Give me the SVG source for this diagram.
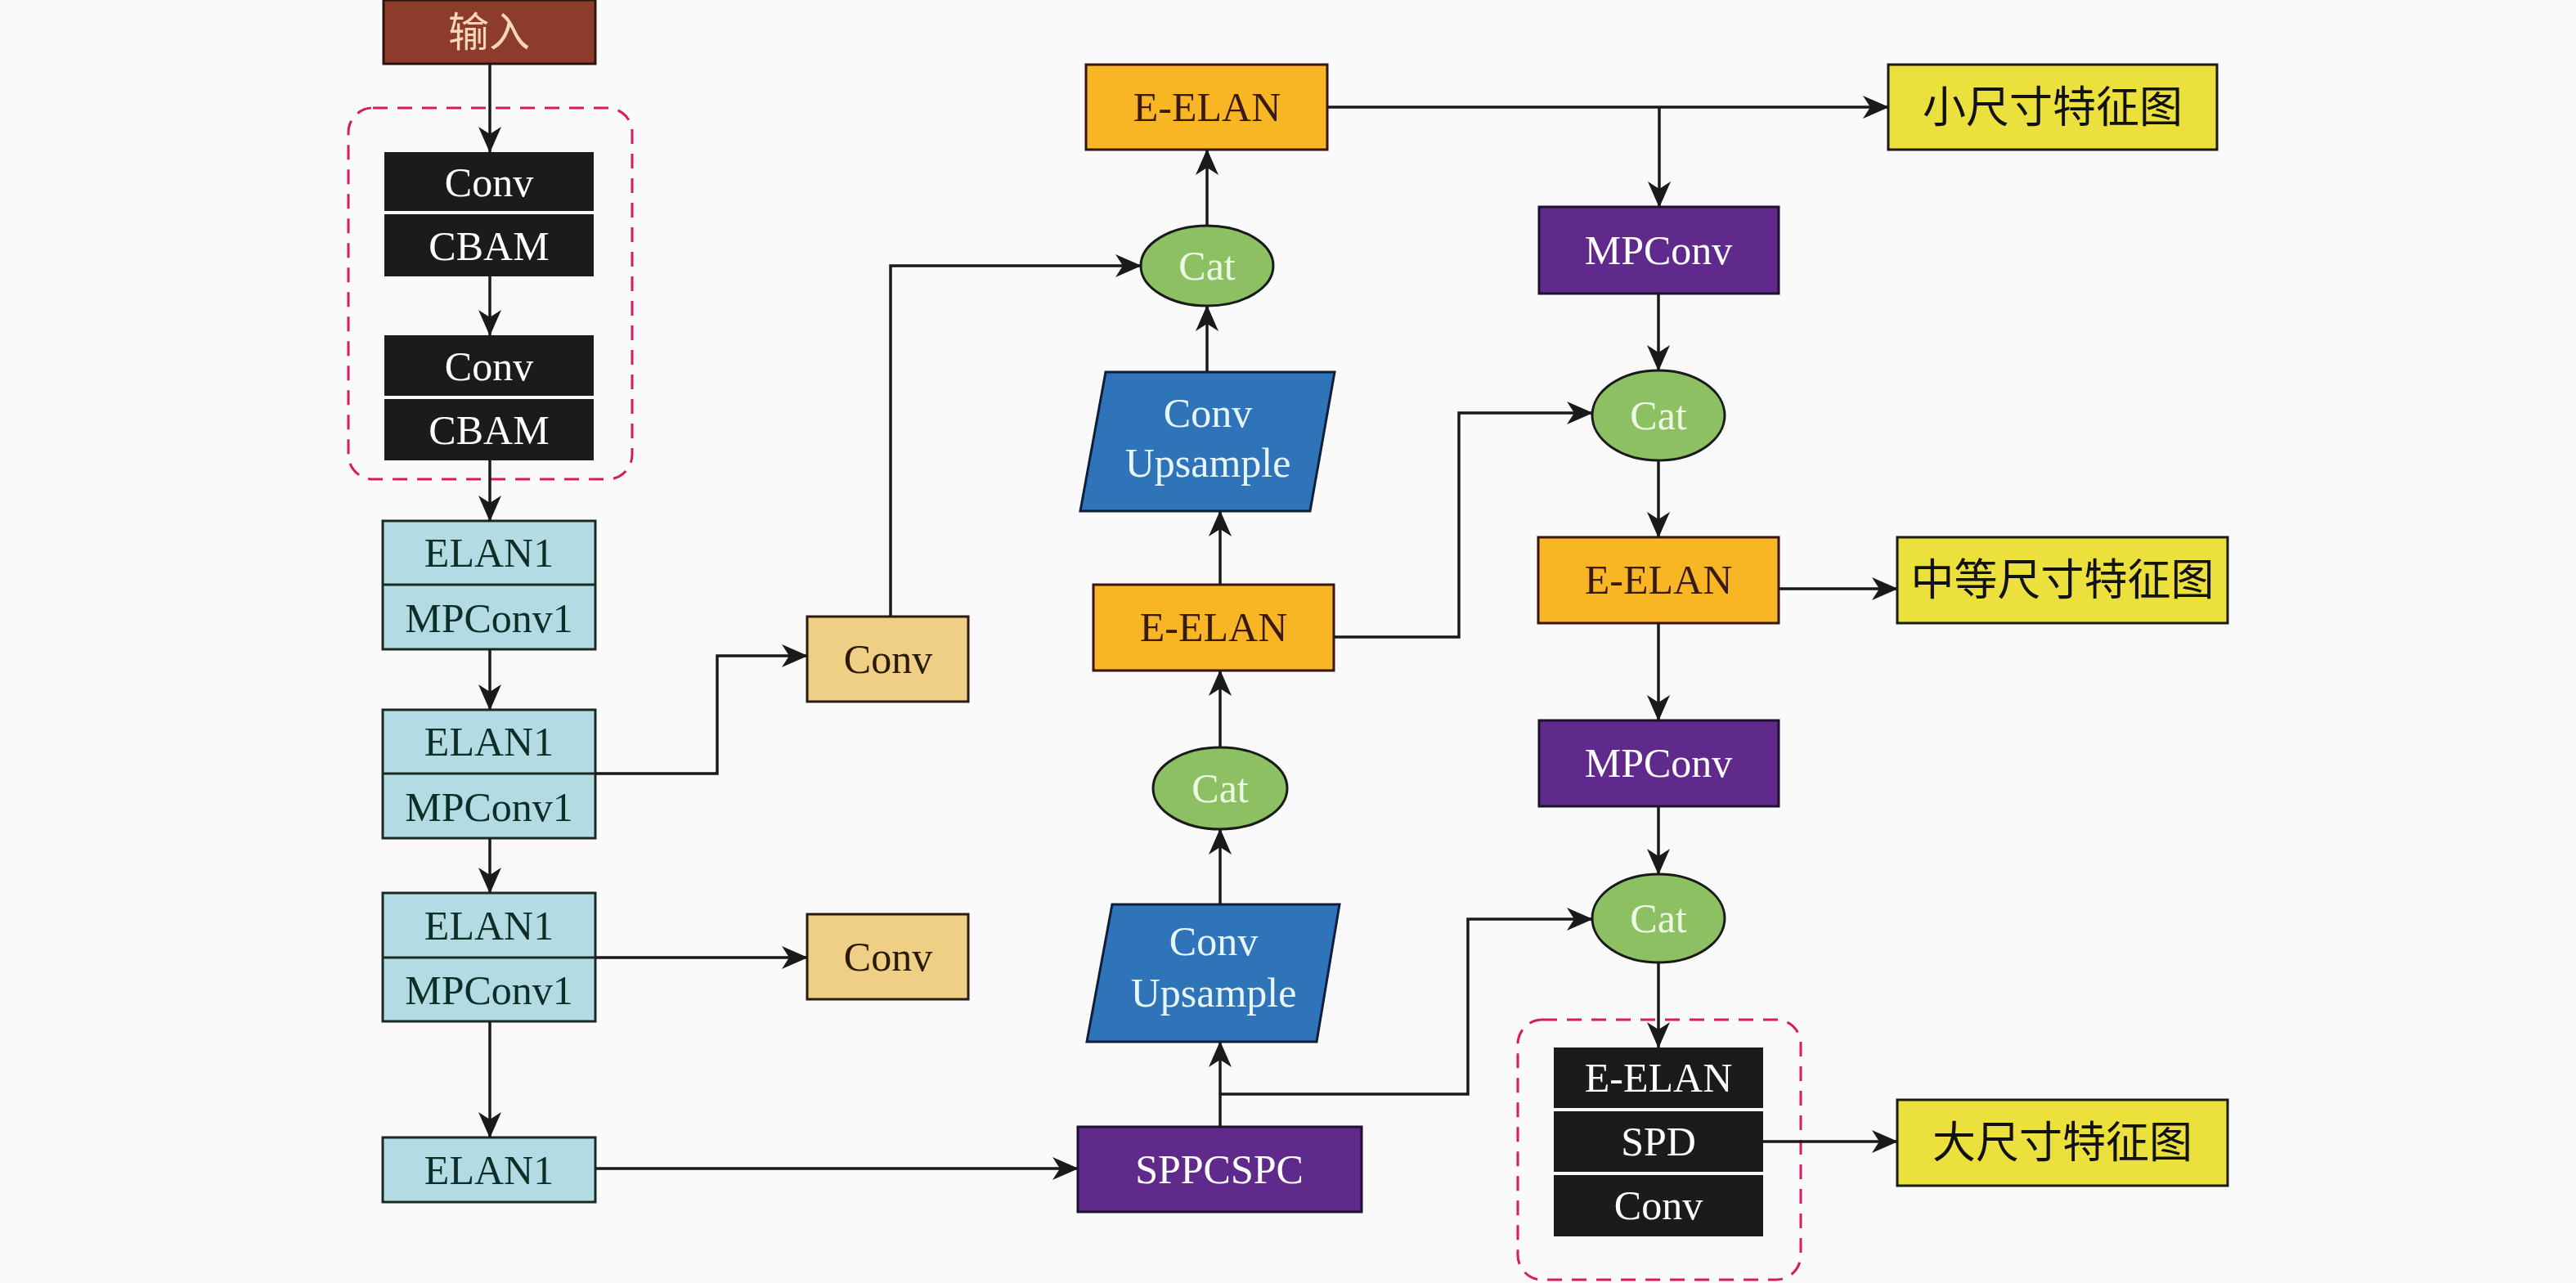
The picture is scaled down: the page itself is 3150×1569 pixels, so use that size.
<svg xmlns="http://www.w3.org/2000/svg" width="3150" height="1569" viewBox="0 0 3150 1569">
<defs>
<marker id="ah" markerUnits="userSpaceOnUse" markerWidth="32" markerHeight="28" viewBox="0 0 32 28" refX="31" refY="14" orient="auto">
<path d="M0,0 L32,14 L0,28 L9,14 z" fill="#1a1a1a"/>
</marker>
<style>
text{font-family:"Liberation Serif","Times New Roman",serif;font-size:50px;text-anchor:middle}
.cn{font-family:"Noto Sans CJK SC","Liberation Serif",sans-serif;font-size:53px}
.blk rect{fill:#1b1b1b}
.blk text{fill:#ffffff}
.elan rect{fill:#b3dbe4;stroke:#1a2a22;stroke-width:3}
.elan line{stroke:#1a2a22;stroke-width:3}
.elan text{fill:#0c2e26}
.conv rect{fill:#efce85;stroke:#2a1a10;stroke-width:3}
.conv text{fill:#2a1a00}
.ee rect{fill:#f8b524;stroke:#3a1410;stroke-width:3}
.ee text{fill:#3a1a10}
.cat ellipse{fill:#8cc063;stroke:#1a1a1a;stroke-width:3}
.cat text{fill:#eef9e4}
.up polygon{fill:#2f73b8;stroke:#0f1f3a;stroke-width:3}
.up text{fill:#e8f6ff}
.pur rect{fill:#5f2a8c;stroke:#1e1230;stroke-width:3}
.pur text{fill:#ffffff}
.feat rect{fill:#ece03c;stroke:#1a1a1a;stroke-width:3}
.feat text{fill:#111111}
.dash{fill:none;stroke:#d81b60;stroke-width:3;stroke-dasharray:18 12}
#connectors path{fill:none;stroke:#1a1a1a;stroke-width:3.5}
</style>
</defs>
<rect x="0" y="0" width="3150" height="1569" fill="#fafafa"/>

<rect class="dash" x="426" y="132" width="347" height="454" rx="30"/>
<rect class="dash" x="1856" y="1247" width="346" height="318" rx="30"/>

<g id="input">
<rect x="469" y="0" width="259" height="78" fill="#8d3b2b" stroke="#2a1410" stroke-width="3"/>
<text class="cn" x="598" y="57" fill="#f6d8b8" style="font-size:50px">输入</text>
</g>

<g id="convcbam1" class="blk">
<rect x="470" y="186" width="256" height="72"/>
<rect x="470" y="262" width="256" height="76"/>
<text x="598" y="240">Conv</text>
<text x="598" y="318">CBAM</text>
</g>
<g id="convcbam2" class="blk">
<rect x="470" y="410" width="256" height="74"/>
<rect x="470" y="488" width="256" height="75"/>
<text x="598" y="465">Conv</text>
<text x="598" y="543">CBAM</text>
</g>

<g id="elan1a" class="elan">
<rect x="468" y="637" width="260" height="157"/>
<line x1="468" y1="715" x2="728" y2="715"/>
<text x="598" y="693">ELAN1</text>
<text x="598" y="773">MPConv1</text>
</g>
<g id="elan1b" class="elan">
<rect x="468" y="868" width="260" height="157"/>
<line x1="468" y1="946" x2="728" y2="946"/>
<text x="598" y="924">ELAN1</text>
<text x="598" y="1004">MPConv1</text>
</g>
<g id="elan1c" class="elan">
<rect x="468" y="1092" width="260" height="157"/>
<line x1="468" y1="1171" x2="728" y2="1171"/>
<text x="598" y="1149">ELAN1</text>
<text x="598" y="1228">MPConv1</text>
</g>
<g id="elan1d" class="elan">
<rect x="468" y="1391" width="260" height="79"/>
<text x="598" y="1448">ELAN1</text>
</g>

<g id="convA" class="conv">
<rect x="987" y="754" width="197" height="104"/>
<text x="1086" y="823">Conv</text>
</g>
<g id="convB" class="conv">
<rect x="987" y="1118" width="197" height="104"/>
<text x="1086" y="1187">Conv</text>
</g>

<g id="eelanTop" class="ee">
<rect x="1328" y="79" width="295" height="104"/>
<text x="1476" y="148">E-ELAN</text>
</g>
<g id="cat1" class="cat">
<ellipse cx="1476" cy="325" rx="81" ry="49"/>
<text x="1476" y="342">Cat</text>
</g>
<g id="up1" class="up">
<polygon points="1352,455 1632,455 1602,625 1321,625"/>
<text x="1477" y="522">Conv</text>
<text x="1477" y="583">Upsample</text>
</g>
<g id="eelanMid" class="ee">
<rect x="1337" y="715" width="294" height="105"/>
<text x="1484" y="784">E-ELAN</text>
</g>
<g id="cat2" class="cat">
<ellipse cx="1492" cy="964" rx="82" ry="50"/>
<text x="1492" y="981">Cat</text>
</g>
<g id="up2" class="up">
<polygon points="1360,1106 1638,1106 1610,1274 1329,1274"/>
<text x="1484" y="1168">Conv</text>
<text x="1484" y="1231">Upsample</text>
</g>
<g id="sppcspc" class="pur">
<rect x="1318" y="1378" width="347" height="104"/>
<text x="1491" y="1447">SPPCSPC</text>
</g>

<g id="featS" class="feat">
<rect x="2309" y="79" width="402" height="104"/>
<text class="cn" x="2510" y="150">小尺寸特征图</text>
</g>
<g id="mpconv1" class="pur">
<rect x="1882" y="253" width="293" height="106"/>
<text x="2028" y="323">MPConv</text>
</g>
<g id="cat3" class="cat">
<ellipse cx="2028" cy="508" rx="81" ry="55"/>
<text x="2028" y="525">Cat</text>
</g>
<g id="eelanR" class="ee">
<rect x="1881" y="657" width="294" height="105"/>
<text x="2028" y="726">E-ELAN</text>
</g>
<g id="featM" class="feat">
<rect x="2320" y="657" width="404" height="105"/>
<text class="cn" x="2522" y="728">中等尺寸特征图</text>
</g>
<g id="mpconv2" class="pur">
<rect x="1882" y="881" width="293" height="105"/>
<text x="2028" y="950">MPConv</text>
</g>
<g id="cat4" class="cat">
<ellipse cx="2028" cy="1123" rx="81" ry="54"/>
<text x="2028" y="1140">Cat</text>
</g>
<g id="headstack" class="blk">
<rect x="1900" y="1281" width="256" height="74"/>
<rect x="1900" y="1359" width="256" height="74"/>
<rect x="1900" y="1437" width="256" height="75"/>
<text x="2028" y="1335">E-ELAN</text>
<text x="2028" y="1413">SPD</text>
<text x="2028" y="1491">Conv</text>
</g>
<g id="featL" class="feat">
<rect x="2320" y="1345" width="404" height="105"/>
<text class="cn" x="2522" y="1416">大尺寸特征图</text>
</g>

<g id="connectors">
<path d="M599,78 V186" marker-end="url(#ah)"/>
<path d="M599,338 V410" marker-end="url(#ah)"/>
<path d="M599,563 V637" marker-end="url(#ah)"/>
<path d="M599,794 V868" marker-end="url(#ah)"/>
<path d="M599,1025 V1092" marker-end="url(#ah)"/>
<path d="M599,1249 V1391" marker-end="url(#ah)"/>
<path d="M728,946 H877 V802 H987" marker-end="url(#ah)"/>
<path d="M728,1171 H987" marker-end="url(#ah)"/>
<path d="M728,1429 H1318" marker-end="url(#ah)"/>
<path d="M1089,754 V325 H1395" marker-end="url(#ah)"/>
<path d="M1492,1378 V1274" marker-end="url(#ah)"/>
<path d="M1492,1338 H1795 V1124 H1947" marker-end="url(#ah)"/>
<path d="M1492,1106 V1014" marker-end="url(#ah)"/>
<path d="M1492,914 V820" marker-end="url(#ah)"/>
<path d="M1492,715 V625" marker-end="url(#ah)"/>
<path d="M1476,455 V374" marker-end="url(#ah)"/>
<path d="M1476,276 V183" marker-end="url(#ah)"/>
<path d="M1623,131 H2309" marker-end="url(#ah)"/>
<path d="M2029,131 V253" marker-end="url(#ah)"/>
<path d="M1631,779 H1784 V505 H1947" marker-end="url(#ah)"/>
<path d="M2028,359 V453" marker-end="url(#ah)"/>
<path d="M2028,563 V657" marker-end="url(#ah)"/>
<path d="M2175,720 H2320" marker-end="url(#ah)"/>
<path d="M2028,762 V881" marker-end="url(#ah)"/>
<path d="M2028,986 V1069" marker-end="url(#ah)"/>
<path d="M2028,1177 V1281" marker-end="url(#ah)"/>
<path d="M2156,1396 H2320" marker-end="url(#ah)"/>
</g>
</svg>
